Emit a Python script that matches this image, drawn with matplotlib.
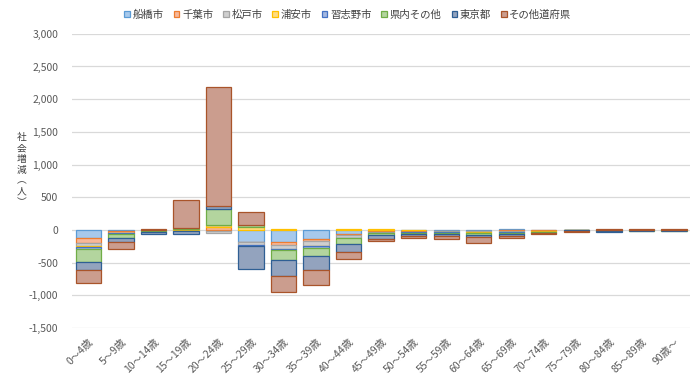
import numpy as np
import matplotlib
matplotlib.use("Agg")
import matplotlib.pyplot as plt
from matplotlib.ticker import FuncFormatter, MultipleLocator

plt.rcParams['font.family'] = ['Noto Sans CJK JP', 'DejaVu Sans']

# 年齢階級
ages = ['0～4歳', '5～9歳', '10～14歳', '15～19歳', '20～24歳', '25～29歳', '30～34歳',
        '35～39歳', '40～44歳', '45～49歳', '50～54歳', '55～59歳', '60～64歳',
        '65～69歳', '70～74歳', '75～79歳', '80～84歳', '85～89歳', '90歳～']

# 転入元・転出先ごとの社会増減（人）
funabashi = [-120, -15, -5, -10, -10, -180, -190, -133, -56, -15, -20, -10, -10, 15, -5, 0, 0, 5, 5]
chiba = [-80, -25, 0, 0, 40, -10, -40, -41, -25, -10, -5, -10, -10, -10, -5, 0, 5, 0, 0]
matsudo = [-50, -10, -5, 0, -45, -45, -60, -71, -36, -15, -10, -10, -15, -15, -5, 0, 0, 0, 0]
urayasu = [-15, -5, 0, 10, 35, 50, 15, -5, 15, 15, 5, -5, -5, -10, -15, 0, 0, 0, 0]
narashino = [-25, -10, -5, -10, 5, -5, -25, -25, -10, -10, -5, -10, -10, -10, -5, 0, 0, 0, 0]
kennai = [-205, -60, -15, 20, 240, 25, -140, -117, -87, -25, -20, -20, -30, -25, -10, 0, -20, -10, -10]
tokyo = [-115, -65, -40, -45, 50, -360, -255, -224, -128, -60, -40, -25, -25, -20, -10, -15, -10, -5, -5]
others = [-205, -95, 10, 430, 1810, 205, -235, -224, -97, -40, -25, -45, -95, -30, -15, -20, 15, 15, 15]

series = [
    ('船橋市', funabashi, '#A7C9EC', '#5B9BD5'),
    ('千葉市', chiba, '#F7B89A', '#ED7D31'),
    ('松戸市', matsudo, '#CFCFCF', '#A5A5A5'),
    ('浦安市', urayasu, '#FFDC82', '#FFC000'),
    ('習志野市', narashino, '#A3B7E0', '#4472C4'),
    ('県内その他', kennai, '#B3D59E', '#70AD47'),
    ('東京都', tokyo, '#93A3BE', '#2F5F94'),
    ('その他道府県', others, '#CB9D8E', '#A9542A'),
]

fig = plt.figure(figsize=(7, 3.8), dpi=100)
ax = fig.add_axes([0.103, 0.137, 0.883, 0.774])

x = np.arange(len(ages))
pos_bottom = np.zeros(len(ages))
neg_bottom = np.zeros(len(ages))
for name, vals, fc, ec in series:
    v = np.array(vals, dtype=float)
    bottom = np.where(v >= 0, pos_bottom, neg_bottom)
    ax.bar(x, v, width=0.78, bottom=bottom, color=fc, edgecolor=ec,
           linewidth=0.9, label=name, zorder=3)
    pos_bottom += np.where(v > 0, v, 0)
    neg_bottom += np.where(v < 0, v, 0)

ax.set_xlim(-0.5, len(ages) - 0.5)
ax.set_ylim(-1500, 3000)
ax.yaxis.set_major_locator(MultipleLocator(500))
ax.yaxis.set_major_formatter(FuncFormatter(lambda v, p: f'{int(v):,}'))
ax.grid(axis='y', color='#D9D9D9', linewidth=0.9, zorder=0)
for s in ax.spines.values():
    s.set_visible(False)
ax.tick_params(axis='both', length=0, colors='#595959', labelsize=7.5)
ax.tick_params(axis='y', pad=10)

ax.set_xticks(x)
ax.set_xticklabels(ages, rotation=45, ha='right', va='top',
                   rotation_mode='anchor', fontsize=7.5)
ax.tick_params(axis='x', pad=6)

fig.text(0.031, 0.553, '社\n会\n増\n減\n︵\n人\n︶', ha='center', va='center',
         fontsize=7, color='#404040', linespacing=1.1)

fig.legend(loc='center', bbox_to_anchor=(0.497, 0.962), ncol=8, frameon=False,
           fontsize=7.5, handlelength=0.55, handleheight=0.55, handletextpad=0.25,
           columnspacing=0.95, labelcolor='#404040')

fig.savefig('out.png', dpi=100)
